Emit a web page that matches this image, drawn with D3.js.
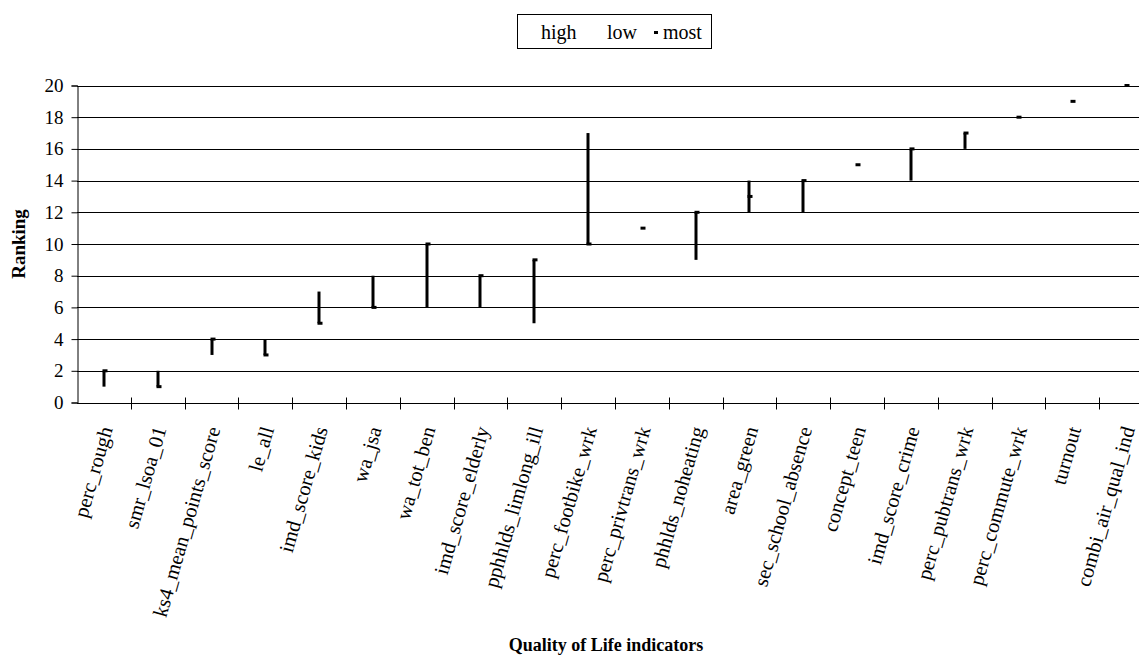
<!DOCTYPE html>
<html><head><meta charset="utf-8">
<script src="https://cdn.jsdelivr.net/npm/d3@7"></script>
<style>
body{margin:0;background:#fff;}
svg{display:block;}
svg text{font-family:"Liberation Serif","Tinos","Times New Roman",Times,"DejaVu Serif","Noto Serif",serif !important;fill:#000;}
</style></head>
<body>
<svg id="chart" width="1139" height="657" font-family="Liberation Serif, Times New Roman, DejaVu Serif, serif"></svg>
<script>
const categories = ["perc_rough","smr_lsoa_01","ks4_mean_points_score","le_all","imd_score_kids","wa_jsa","wa_tot_ben","imd_score_elderly","pphhlds_limlong_ill","perc_footbike_wrk","perc_privtrans_wrk","phhlds_noheating","area_green","sec_school_absence","concept_teen","imd_score_crime","perc_pubtrans_wrk","perc_commute_wrk","turnout","combi_air_qual_ind"];
const high = [2,2,4,4,7,8,10,8,9,17,11,12,14,14,15,16,17,18,19,20];
const low  = [1,1,3,3,5,6,6,6,5,10,11,9,12,12,15,14,16,18,19,20];
const most = [2,1,4,3,5,6,10,8,9,10,11,12,13,14,15,16,17,18,19,20];
const yTicks = [0,2,4,6,8,10,12,14,16,18,20];

const svg = d3.select("#chart");
const x0 = 77, step = 53.8;
const x = d3.scaleBand().domain(categories).range([x0, x0 + step*categories.length]).padding(0);
const y = d3.scaleLinear().domain([0,20]).range([402.5, 85.5]);

// gridlines
svg.append("g").selectAll("line").data(yTicks.filter(d=>d>0)).join("line")
  .attr("x1", x0).attr("x2", 1139)
  .attr("y1", d=>Math.round(y(d))+0.5).attr("y2", d=>Math.round(y(d))+0.5)
  .attr("stroke","#000").attr("stroke-width",1);

// y axis
const yAxis = svg.append("g").attr("transform",`translate(${x0+0.5},0)`)
  .call(d3.axisLeft(y).tickValues(yTicks).tickSize(6).tickPadding(8).tickFormat(d3.format("d")));
yAxis.attr("font-family",null).attr("font-size",null);
yAxis.select(".domain").attr("stroke","#000");
yAxis.selectAll(".tick line").attr("stroke","#000");
yAxis.selectAll("text").style("font-size","19px");

// x axis
const xAxisY = Math.round(y(0))+0.5;
const xg = svg.append("g").attr("transform",`translate(0,${xAxisY})`);
xg.append("line").attr("x1",x0).attr("x2",1139).attr("stroke","#000");
const bounds = categories.map((c,i)=>x0 + step*(i+1)).slice(0,-1);
xg.selectAll("line.tk").data(bounds).join("line").attr("class","tk")
  .attr("x1",d=>Math.round(d)+0.5).attr("x2",d=>Math.round(d)+0.5)
  .attr("y1",-6).attr("y2",6).attr("stroke","#000");

// x labels
svg.append("g").selectAll("text").data(categories).join("text")
  .attr("transform", d=>`translate(${x(d)+x.bandwidth()/2+2},${427}) rotate(-74)`)
  .attr("text-anchor","end")
  .attr("dy","0.35em")
  .style("font-size","20.5px")
  .text(d=>d);

// high-low lines
const cx = d => Math.round(x(d)+x.bandwidth()/2);
svg.append("g").selectAll("line").data(categories).join("line")
  .attr("x1",(d)=>cx(d)).attr("x2",(d)=>cx(d))
  .attr("y1",(d,i)=>y(high[i])).attr("y2",(d,i)=>y(low[i]))
  .attr("stroke","#000").attr("stroke-width",3);

// most markers
svg.append("g").selectAll("rect").data(categories).join("rect")
  .attr("x",d=>cx(d)-1.5).attr("y",(d,i)=>y(most[i])-1.5)
  .attr("width",5).attr("height",3).attr("fill","#000");

// axis titles
svg.append("text").attr("transform",`translate(25,${(85+403)/2}) rotate(-90)`)
  .attr("text-anchor","middle").style("font-size","19px").style("font-weight","bold").text("Ranking");
svg.append("text").attr("x",606).attr("y",651).attr("text-anchor","middle")
  .style("font-size","18px").style("font-weight","bold").text("Quality of Life indicators");

// legend
const lg = svg.append("g");
lg.append("rect").attr("x",517.5).attr("y",14.5).attr("width",194).attr("height",34)
  .attr("fill","#fff").attr("stroke","#000");
lg.append("text").attr("x",541).attr("y",39).style("font-size","20px").text("high");
lg.append("text").attr("x",607).attr("y",39).style("font-size","20px").text("low");
lg.append("rect").attr("x",654).attr("y",31).attr("width",4).attr("height",3).attr("fill","#000");
lg.append("text").attr("x",663).attr("y",39).style("font-size","20px").text("most");
</script>
</body></html>
